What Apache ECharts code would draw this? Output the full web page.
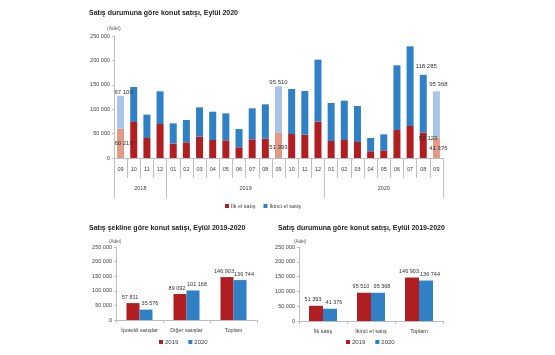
<!DOCTYPE html>
<html><head><meta charset="utf-8">
<script src="https://cdn.jsdelivr.net/npm/echarts@6/dist/echarts.min.js"></script>
<style>html,body{margin:0;padding:0;background:#fff}#c{width:555px;height:355px}</style>
</head><body><div id="c"></div>
<script>
// ---- Data ----
const periodYears  = ['2018','2018','2018','2018','2019','2019','2019','2019','2019','2019','2019','2019','2019','2019','2019','2019','2020','2020','2020','2020','2020','2020','2020','2020','2020'];
const periodMonths = ['09','10','11','12','01','02','03','04','05','06','07','08','09','10','11','12','01','02','03','04','05','06','07','08','09'];
const firstHand  = [60219,73800,41000,69700,29400,32100,43700,36900,36200,21900,38200,39600,51393,49200,47800,74400,34800,36900,32800,13700,15700,57400,65600,52123,41376];
const secondHand = [67100,71700,47800,66900,41600,45800,60100,58000,55300,37500,63600,70400,95510,92200,89500,127100,77900,80600,73700,27300,32800,132500,163200,118285,95368];
const labeledIdx = [0,12,23,24];
const yTicks = [0,50000,100000,150000,200000,250000];

const formCats = ['İpotekli satışlar','Diğer satışlar','Toplam'];
const form2019 = [57811,89092,146903];
const form2020 = [35576,101168,136744];

const statusCats = ['İlk satış','İkinci el satış','Toplam'];
const status2019 = [51393,95510,146903];
const status2020 = [41376,95368,136744];

// ---- Helpers ----
const fmt = v => String(Math.round(v)).replace(/\B(?=(\d{3})+(?!\d))/g, ' ');
const FONT = 'Liberation Sans';
const RED = '#b01e22', BLUE = '#2f80c4', LRED = '#e29a86', LBLUE = '#a9c4e8';
const AX = '#bfbfbf', TXT = '#404040';

// year axis built from the periods: 2 slots per category, boundaryGap false
const nCat = periodMonths.length;
const yearSlots = new Array(2*nCat+1).fill('');
const yearBounds = [];
let start = 0;
for (let i = 1; i <= nCat; i++) {
  if (i === nCat || periodYears[i] !== periodYears[start]) {
    yearBounds.push(2*start);
    yearSlots[start + i] = periodYears[start];
    start = i;
  }
}
yearBounds.push(2*nCat);

const offsets = {0:{top:[3,0],bot:[3,0]},12:{top:[0,0],bot:[0,2]},23:{top:[3,-4],bot:[5,-7]},24:{top:[2,-3],bot:[2,0]}};
const isSep = i => periodMonths[i] === '09';

const firstData = firstHand.map((v,i)=>{
  const it = {value:v, itemStyle:{color: isSep(i)?LRED:RED}};
  if (labeledIdx.includes(i)) it.label = {show:true, position:'inside', offset:offsets[i].bot};
  return it;
});
const secondData = secondHand.map((v,i)=>{
  const it = {value:v, itemStyle:{color: isSep(i)?LBLUE:BLUE}};
  if (labeledIdx.includes(i)) it.label = {show:true, position:'top', distance:1, offset:offsets[i].top};
  return it;
});

const lbl = {show:false, formatter:p=>fmt(p.value), fontSize:6, color:'#333', fontFamily:FONT};

function yAx(grid){
  return {type:'value', gridIndex:grid, min:yTicks[0], max:yTicks[yTicks.length-1], interval:yTicks[1]-yTicks[0],
    axisLine:{show:true,lineStyle:{color:AX}}, axisTick:{show:true,length:2,lineStyle:{color:AX}},
    splitLine:{show:false}, axisLabel:{fontSize:5.5,color:TXT,fontFamily:FONT,formatter:v=>fmt(v),margin:4}};
}
function catAx(grid, data){
  return {type:'category', gridIndex:grid, data:data,
    axisLine:{show:true,lineStyle:{color:AX}}, axisTick:{show:true,length:3,lineStyle:{color:AX}},
    axisLabel:{fontSize:5.5,color:TXT,fontFamily:FONT,margin:7,interval:0}};
}
const barLbl = (dx) => ({show:true, position:'top', distance:3, offset:[dx,0], formatter:p=>fmt(p.value), fontSize:5.5, color:'#333', fontFamily:FONT});

const option = {
  animation:false,
  textStyle:{fontFamily:FONT},
  title:[
    {text:'Satış durumuna göre konut satışı, Eylül 2020', left:84, top:5, textStyle:{fontSize:7,fontWeight:'bold',color:'#222',fontFamily:FONT}},
    {text:'(Adet)', left:102, top:21, textStyle:{fontSize:5,fontWeight:'normal',color:'#555',fontFamily:FONT}},
    {text:'Satış şekline göre konut satışı, Eylül 2019-2020', left:84, top:220, textStyle:{fontSize:7,fontWeight:'bold',color:'#222',fontFamily:FONT}},
    {text:'(Adet)', left:104, top:234, textStyle:{fontSize:4.5,fontWeight:'normal',color:'#555',fontFamily:FONT}},
    {text:'Satış durumuna göre konut satışı, Eylül 2019-2020', left:273, top:220, textStyle:{fontSize:7,fontWeight:'bold',color:'#222',fontFamily:FONT}},
    {text:'(Adet)', left:289, top:234, textStyle:{fontSize:4.5,fontWeight:'normal',color:'#555',fontFamily:FONT}}
  ],
  legend:[
    {data:['İlk el satış','İkinci el satış'], left:220, top:198, icon:'rect', itemWidth:4, itemHeight:4, itemGap:8,
      textStyle:{fontSize:5.5,color:TXT,fontFamily:FONT,padding:[0,0,0,-3]}},
    {data:['2019','2020'], left:154, top:334, icon:'rect', itemWidth:4, itemHeight:4, itemGap:10,
      textStyle:{fontSize:6,color:TXT,fontFamily:FONT,padding:[0,0,0,-3]}},
    {data:['2019','2020'], left:341, top:334, icon:'rect', itemWidth:4, itemHeight:4, itemGap:10,
      textStyle:{fontSize:6,color:TXT,fontFamily:FONT,padding:[0,0,0,-3]}}
  ],
  grid:[
    {left:114, top:36, width:329, height:122},
    {left:116, top:247, width:141, height:73},
    {left:299, top:247, width:144, height:74}
  ],
  xAxis:[
    {type:'category', gridIndex:0, data:periodMonths, position:'bottom',
      axisLine:{show:true,lineStyle:{color:AX}}, axisTick:{show:true,interval:0,length:20,lineStyle:{color:AX}},
      axisLabel:{fontSize:5.5,color:TXT,fontFamily:FONT,margin:8,interval:0}},
    {type:'category', gridIndex:0, data:yearSlots, boundaryGap:false, position:'bottom',
      axisLine:{show:false}, axisTick:{show:true,length:40,interval:(i)=>yearBounds.includes(i),lineStyle:{color:AX}},
      axisLabel:{fontSize:5.5,color:TXT,fontFamily:FONT,margin:27,interval:(i,v)=>v!==''}},
    catAx(1, formCats),
    catAx(2, statusCats)
  ],
  yAxis:[yAx(0), yAx(1), yAx(2)],
  series:[
    {name:'İlk el satış', type:'bar', stack:'a', xAxisIndex:0, yAxisIndex:0, barWidth:7, data:firstData, itemStyle:{color:RED}, label:lbl},
    {name:'İkinci el satış', type:'bar', stack:'a', xAxisIndex:0, yAxisIndex:0, barWidth:7, data:secondData, itemStyle:{color:BLUE}, label:lbl},
    {name:'2019', type:'bar', xAxisIndex:2, yAxisIndex:1, barWidth:13, barGap:'0%', data:form2019, itemStyle:{color:RED}, label:barLbl(-3)},
    {name:'2020', type:'bar', xAxisIndex:2, yAxisIndex:1, barWidth:13, barGap:'0%', data:form2020, itemStyle:{color:BLUE}, label:barLbl(4)},
    {name:'2019', type:'bar', xAxisIndex:3, yAxisIndex:2, barWidth:14, barGap:'0%', data:status2019, itemStyle:{color:RED}, label:barLbl(-3)},
    {name:'2020', type:'bar', xAxisIndex:3, yAxisIndex:2, barWidth:14, barGap:'0%', data:status2020, itemStyle:{color:BLUE}, label:barLbl(4)}
  ]
};
const chart = echarts.init(document.getElementById('c'), null, {renderer:'canvas'});
chart.setOption(option);
</script></body></html>
